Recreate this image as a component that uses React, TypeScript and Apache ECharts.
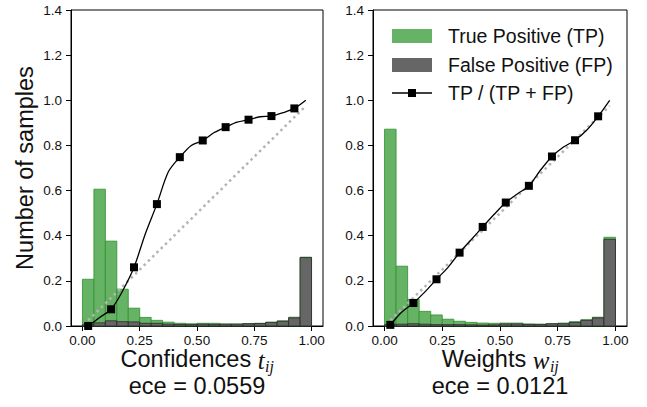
import React, { useEffect, useRef } from "react";
import * as echarts from "echarts";

const binEdges = [0, 0.05, 0.1, 0.15, 0.2, 0.25, 0.3, 0.35, 0.4, 0.45, 0.5, 0.55, 0.6, 0.65, 0.7, 0.75, 0.8, 0.85, 0.9, 0.95, 1.0];
const binCenters = [0.025, 0.075, 0.125, 0.175, 0.225, 0.275, 0.325, 0.375, 0.425, 0.475, 0.525, 0.575, 0.625, 0.675, 0.725, 0.775, 0.825, 0.875, 0.925, 0.975];

const leftTP = [0.207, 0.606, 0.376, 0.163, 0.079, 0.038, 0.025, 0.017, 0.012, 0.010, 0.012, 0.012, 0.009, 0.009, 0.011, 0.012, 0.017, 0.023, 0.039, 0.305];
const leftFP = [0.006, 0.014, 0.023, 0.019, 0.018, 0.012, 0.012, 0.008, 0.007, 0.006, 0.008, 0.007, 0.008, 0.008, 0.010, 0.011, 0.016, 0.021, 0.036, 0.303];
const leftRatio = [0.0, 0.038, 0.074, 0.155, 0.26, 0.41, 0.54, 0.683, 0.748, 0.80, 0.822, 0.857, 0.881, 0.903, 0.914, 0.927, 0.93, 0.945, 0.964, 1.0];

const rightTP = [0.872, 0.265, 0.118, 0.065, 0.049, 0.030, 0.021, 0.016, 0.013, 0.012, 0.013, 0.013, 0.009, 0.008, 0.010, 0.013, 0.019, 0.028, 0.039, 0.393];
const rightFP = [0.006, 0.008, 0.010, 0.008, 0.006, 0.006, 0.006, 0.005, 0.004, 0.005, 0.009, 0.009, 0.007, 0.007, 0.010, 0.010, 0.016, 0.025, 0.036, 0.384];
const rightRatio = [0.005, 0.062, 0.102, 0.151, 0.207, 0.26, 0.325, 0.382, 0.439, 0.495, 0.547, 0.585, 0.621, 0.69, 0.751, 0.793, 0.823, 0.867, 0.929, 1.0];

const diagonal = [[0.025, 0.025], [0.975, 0.975]];
const xTicks = [0, 0.25, 0.5, 0.75, 1.0];
const eceLeft = "ece = 0.0559";
const eceRight = "ece = 0.0121";

const FONT = "Liberation Sans, Arial, sans-serif";
const SERIF = "Liberation Serif, serif";
const GREEN = "#66b366";
const GREEN_EDGE = "#2f8f2f";
const GRAY = "#666666";
const GRAY_EDGE = "#2a2a2a";

function histSeries(name: string, values: number[], idx: number, fill: string, edge: string, z: number) {
  return {
    type: "custom",
    name,
    xAxisIndex: idx,
    yAxisIndex: idx,
    z,
    itemStyle: { color: fill },
    encode: { x: [0, 1], y: 2 },
    data: values.map((v, i) => [binEdges[i], binEdges[i + 1], v]),
    renderItem: (params: any, api: any) => {
      const p0 = api.coord([api.value(0), api.value(2)]);
      const p1 = api.coord([api.value(1), 0]);
      return {
        type: "rect",
        shape: { x: p0[0], y: p0[1], width: p1[0] - p0[0], height: p1[1] - p0[1] },
        style: { fill, stroke: edge, lineWidth: 0.8 },
      };
    },
  };
}

function ratioSeries(values: number[], idx: number) {
  return {
    type: "line",
    name: "TP / (TP + FP)",
    xAxisIndex: idx,
    yAxisIndex: idx,
    z: 5,
    smooth: 0.3,
    symbol: "rect",
    symbolSize: 8,
    lineStyle: { color: "#000", width: 1.3 },
    itemStyle: { color: "#000" },
    data: values.map((v, i) => ({
      value: [binCenters[i], v],
      symbol: i % 2 === 0 && i < 19 ? "rect" : "none",
    })),
  };
}

function diagSeries(idx: number) {
  return {
    type: "line",
    xAxisIndex: idx,
    yAxisIndex: idx,
    z: 4,
    symbol: "none",
    lineStyle: { color: "#b4b4b4", width: 2.5, type: [2.5, 3.5] },
    data: diagonal,
  };
}

function xAxis(idx: number) {
  return {
    type: "value",
    gridIndex: idx,
    min: -0.05,
    max: 1.05,
    splitLine: { show: false },
    axisLine: { show: true, onZero: false, lineStyle: { color: "#000", width: 1 } },
    axisTick: { show: true, inside: false, length: 5, customValues: xTicks, lineStyle: { color: "#000" } },
    axisLabel: {
      show: true,
      customValues: xTicks,
      margin: 7,
      fontSize: 13.5,
      fontFamily: FONT,
      color: "#111",
      formatter: (v: number) => v.toFixed(2),
    },
  };
}

function yAxis(idx: number) {
  return {
    type: "value",
    gridIndex: idx,
    min: 0,
    max: 1.4,
    interval: 0.2,
    splitLine: { show: false },
    axisLine: { show: true, onZero: false, lineStyle: { color: "#000", width: 1 } },
    axisTick: { show: true, inside: false, length: 5, lineStyle: { color: "#000" } },
    axisLabel: {
      margin: 9,
      fontSize: 13.5,
      fontFamily: FONT,
      color: "#111",
      formatter: (v: number) => v.toFixed(1),
    },
  };
}

function measure(text: string, font: string): number {
  const c = document.createElement("canvas").getContext("2d");
  if (!c) return text.length * 10;
  c.font = font;
  return c.measureText(text).width;
}

function mathLabel(cx: number, cy: number, word: string, sym: string, sub: string) {
  const mainSize = 23.5;
  const symSize = 25;
  const subSize = 16;
  const w1 = measure(word, `${mainSize}px Liberation Sans`);
  const w2 = measure(sym, `italic ${symSize}px Liberation Serif`);
  const w3 = measure(sub, `italic ${subSize}px Liberation Serif`);
  const start = cx - (w1 + w2 + w3) / 2;
  return [
    { type: "text", x: start, y: cy, style: { text: word, fontSize: mainSize, fontFamily: FONT, fill: "#111", verticalAlign: "middle" } },
    { type: "text", x: start + w1, y: cy + 1, style: { text: sym, fontSize: symSize, fontFamily: SERIF, fontStyle: "italic", fill: "#111", verticalAlign: "middle" } },
    { type: "text", x: start + w1 + w2 + 0.5, y: cy + 7, style: { text: sub, fontSize: subSize, fontFamily: SERIF, fontStyle: "italic", fill: "#111", verticalAlign: "middle" } },
  ];
}

export default function App() {
  const ref = useRef<HTMLDivElement>(null);
  useEffect(() => {
    if (!ref.current) return;
    const chart = echarts.init(ref.current, undefined, { renderer: "svg" });
    const option: any = {
      animation: false,
      textStyle: { fontFamily: FONT },
      grid: [
        { left: 71, top: 10, width: 252, height: 316, show: true, borderColor: "#000", borderWidth: 1, backgroundColor: "transparent" },
        { left: 373, top: 10, width: 254, height: 316, show: true, borderColor: "#000", borderWidth: 1, backgroundColor: "transparent" },
      ],
      xAxis: [xAxis(0), xAxis(1)],
      yAxis: [yAxis(0), yAxis(1)],
      series: [
        histSeries("True Positive (TP)", leftTP, 0, GREEN, GREEN_EDGE, 1),
        histSeries("False Positive (FP)", leftFP, 0, GRAY, GRAY_EDGE, 2),
        diagSeries(0),
        ratioSeries(leftRatio, 0),
        histSeries("True Positive (TP)", rightTP, 1, GREEN, GREEN_EDGE, 1),
        histSeries("False Positive (FP)", rightFP, 1, GRAY, GRAY_EDGE, 2),
        diagSeries(1),
        ratioSeries(rightRatio, 1),
      ],
      graphic: [
        {
          type: "text",
          x: 25,
          y: 168,
          rotation: Math.PI / 2,
          style: { text: "Number of samples", fontSize: 23.5, fontFamily: FONT, fill: "#111", align: "center", verticalAlign: "middle" },
        },
        ...mathLabel(197, 359, "Confidences ", "t", "ij"),
        {
          type: "text",
          x: 197,
          y: 386,
          style: { text: eceLeft, fontSize: 23.5, fontFamily: FONT, fill: "#111", align: "center", verticalAlign: "middle" },
        },
        ...mathLabel(500, 359, "Weights ", "w", "ij"),
        {
          type: "text",
          x: 500,
          y: 386,
          style: { text: eceRight, fontSize: 23.5, fontFamily: FONT, fill: "#111", align: "center", verticalAlign: "middle" },
        },
        { type: "rect", shape: { x: 392, y: 29, width: 40, height: 14 }, style: { fill: GREEN } },
        { type: "rect", shape: { x: 392, y: 58, width: 40, height: 14 }, style: { fill: GRAY } },
        { type: "line", shape: { x1: 392, y1: 93, x2: 432, y2: 93 }, style: { stroke: "#000", lineWidth: 1.3 } },
        { type: "rect", shape: { x: 408, y: 89, width: 8, height: 8 }, style: { fill: "#000" } },
        { type: "text", x: 448, y: 36, style: { text: "True Positive (TP)", fontSize: 19.5, fontFamily: FONT, fill: "#111", verticalAlign: "middle" } },
        { type: "text", x: 448, y: 65, style: { text: "False Positive (FP)", fontSize: 19.5, fontFamily: FONT, fill: "#111", verticalAlign: "middle" } },
        { type: "text", x: 448, y: 93, style: { text: "TP / (TP + FP)", fontSize: 19.5, fontFamily: FONT, fill: "#111", verticalAlign: "middle" } },
      ],
    };
    chart.setOption(option);
    return () => chart.dispose();
  }, []);
  return <div ref={ref} style={{ position: "fixed", left: 0, top: 0, width: 647, height: 407, background: "#fff" }} />;
}
